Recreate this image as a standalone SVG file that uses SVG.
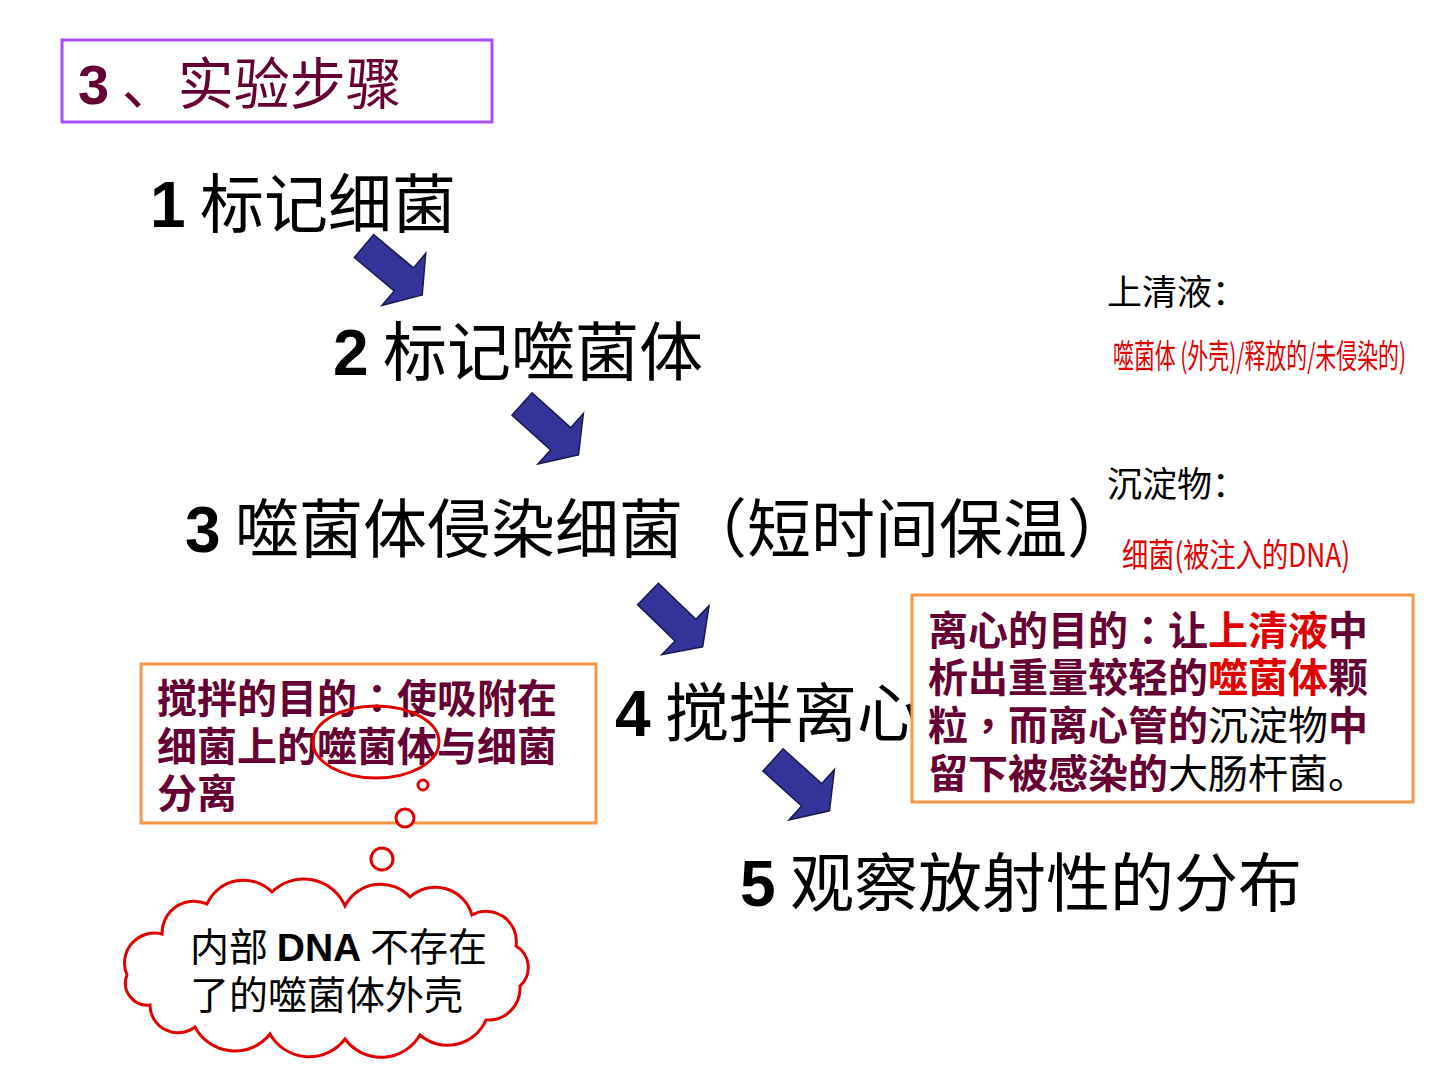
<svg xmlns="http://www.w3.org/2000/svg" width="1440" height="1080" viewBox="0 0 1440 1080">
<defs>
<style>
.cjk{font-family:"Noto Sans CJK SC","Liberation Sans",sans-serif}
.pun{font-family:"Noto Sans CJK TC","Noto Sans CJK SC",sans-serif}
.num{font-family:"Liberation Sans","Noto Sans CJK SC",sans-serif;font-weight:bold}
.step{font-size:64px;fill:#000}
.mar{fill:#660033;font-weight:bold}
.red{fill:#E00000}
.blk{fill:#000;font-weight:normal}
.obox{fill:#fff;stroke:#F79646;stroke-width:3}
.ring{fill:#fff;stroke:#E00000;stroke-width:3}
.arrow{fill:#333399;stroke:#1A1A50;stroke-width:1.5;stroke-linejoin:miter}
</style>
<path id="blk" d="M0,-15 L52,-15 L52,-34 L76,0 L52,34 L52,15 L0,15 Z"/>
</defs>
<rect width="1440" height="1080" fill="#fff"/>

<g id="title">
<rect x="62" y="40" width="430" height="82" fill="#fff" stroke="#A64DFF" stroke-width="3"/>
<text x="78" y="104" font-size="56" fill="#660033"><tspan class="num">3</tspan><tspan class="cjk"> 、实验步骤</tspan></text>
</g>

<g id="step1"><text x="150" y="227" class="step"><tspan class="num">1</tspan><tspan class="cjk"> 标记细菌</tspan></text></g>
<g id="step2"><text x="333" y="375" class="step"><tspan class="num">2</tspan><tspan class="cjk"> 标记噬菌体</tspan></text></g>
<g id="step3"><text x="185" y="552" class="step" font-size="65"><tspan class="num">3</tspan><tspan class="cjk"> 噬菌体侵染细菌（短时间保温）</tspan></text></g>
<g id="step4"><text x="615" y="736" class="step"><tspan class="num">4</tspan><tspan class="cjk"> 搅拌离心</tspan></text></g>
<g id="step5"><text x="740" y="906" class="step"><tspan class="num">5</tspan><tspan class="cjk"> 观察放射性的分布</tspan></text></g>

<g id="connectors">
<use href="#blk" class="arrow" transform="translate(364,246) rotate(40)"/>
<use href="#blk" class="arrow" transform="translate(522,404) rotate(42)"/>
<use href="#blk" class="arrow" transform="translate(648,594) rotate(44)"/>
<use href="#blk" class="arrow" transform="translate(773,760) rotate(42)"/>
</g>

<g id="supernatant">
<text x="1107" y="305" class="cjk" font-size="35" fill="#000">上清液：</text>
<text x="1113" y="368" class="cjk red" font-size="33" textLength="293" lengthAdjust="spacingAndGlyphs">噬菌体 (外壳)/释放的/未侵染的)</text>
</g>
<g id="sediment">
<text x="1107" y="497" class="cjk" font-size="35" fill="#000">沉淀物：</text>
<text x="1122" y="567" class="cjk red" font-size="33" textLength="228" lengthAdjust="spacingAndGlyphs">细菌(被注入的DNA)</text>
</g>

<g id="stir-note">
<rect x="141" y="664" width="455" height="159" class="obox"/>
<text class="cjk mar" font-size="40"><tspan x="157" y="713">搅拌的目的<tspan class="pun">：</tspan>使吸附在</tspan><tspan x="157" y="761">细菌上的噬菌体与细菌</tspan><tspan x="157" y="808">分离</tspan></text>
<ellipse cx="376" cy="742" rx="63" ry="36" fill="none" stroke="#E00000" stroke-width="3"/>
</g>

<g id="bubbles">
<circle cx="423" cy="785" r="5" class="ring"/>
<circle cx="405" cy="818" r="9" class="ring"/>
<circle cx="382" cy="859" r="11" class="ring"/>
</g>

<g id="centrifuge-note">
<rect x="912" y="595" width="501" height="207" class="obox"/>
<text class="cjk mar" font-size="40">
<tspan x="928" y="645">离心的目的<tspan class="pun">：</tspan>让<tspan class="red">上清液</tspan>中</tspan>
<tspan x="928" y="692">析出重量较轻的<tspan class="red">噬菌体</tspan>颗</tspan>
<tspan x="928" y="740">粒<tspan class="pun">，</tspan>而离心管的<tspan class="blk">沉淀物</tspan>中</tspan>
<tspan x="928" y="788">留下被感染的<tspan class="blk">大肠杆菌。</tspan></tspan>
</text>
</g>

<g id="cloud">
<path d="M127,975 A30,30 0 0 1 162,934 A32,32 0 0 1 207,904 A40,40 0 0 1 272,892 A45,45 0 0 1 345,906 A40,40 0 0 1 410,897 A38,38 0 0 1 472,915 A30,30 0 0 1 516,946 A25,25 0 0 1 520,986 A32,32 0 0 1 486,1020 A42,42 0 0 1 420,1035 A45,45 0 0 1 345,1039 A45,45 0 0 1 270,1034 A45,45 0 0 1 195,1027 A28,28 0 0 1 150,1005 A22,22 0 0 1 127,975 Z" fill="#fff" stroke="#E00000" stroke-width="3"/>
<text font-size="39" fill="#000" class="cjk"><tspan x="190" y="961">内部 <tspan class="num">DNA</tspan> 不存在</tspan><tspan x="190" y="1009">了的噬菌体外壳</tspan></text>
</g>
</svg>
